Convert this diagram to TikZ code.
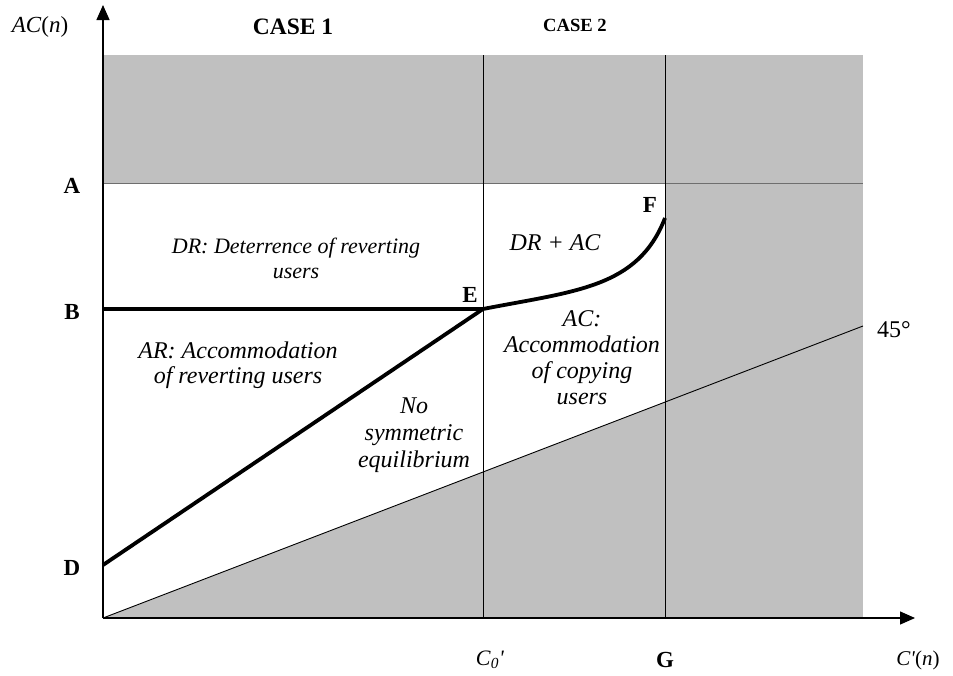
\documentclass[tikz,border=0pt]{standalone}
\usepackage{fontspec}
\setmainfont{Liberation Serif}
\usepackage{tikz}
\usetikzlibrary{arrows.meta}
\definecolor{zone}{RGB}{192,192,192}
\definecolor{edge}{RGB}{110,110,110}

\begin{document}
\begin{tikzpicture}[x=1pt,y=-1pt,
    lbl/.style={font=\fontsize{24}{26}\selectfont\itshape, align=center, inner sep=0pt},
    pt/.style={font=\fontsize{23}{25}\selectfont\bfseries, inner sep=0pt},
    axis/.style={line width=1.3pt, -{Triangle[length=15pt,width=13pt]}},
    curve/.style={line width=3.8pt}]
    \useasboundingbox (0,0) rectangle (953,675);

    % Key points of the diagram
    \coordinate (O) at (103,618);   % origin
    \coordinate (Atop) at (103,183);
    \coordinate (B) at (103,309);
    \coordinate (D) at (103,565);
    \coordinate (E) at (483,309);
    \coordinate (F) at (665,218);
    \coordinate (H) at (863,326);   % end of the 45 degree line

    % Shaded regions
    \fill[zone] (103,55) rectangle (863,183);
    \fill[zone] (665,183) rectangle (863,618);
    \fill[zone] (O) -- (665,402) -- (665,618) -- cycle;
    \draw[edge, line width=0.8pt] (Atop) -- (863,183);

    % Case boundaries
    \draw[line width=0.9pt] (483,55) -- (483,618);
    \draw[line width=0.9pt] (665,55) -- (665,618);

    % 45 degree line
    \draw[line width=0.9pt] (O) -- (H);

    % Regime boundaries
    \draw[curve] (B) -- (E);
    \draw[curve] (D) -- (E);
    \draw[curve] (E) .. controls (575,291) and (638,288) .. (F);

    % Axes
    \draw[axis] (O) -- (103,5);
    \draw[axis] (O) -- (915,618);

    % Axis labels
    \node[lbl, font=\fontsize{23}{25}\selectfont] (yl) at (40,27) {\textit{AC}(\textit{n})};
    \node[lbl, font=\fontsize{21}{25}\selectfont] (xl) at (918,660) {\textit{C\textquotesingle}(\textit{n})};
    \node[lbl, font=\fontsize{22}{25}\selectfont] (c0) at (490,660) {\textit{C}\textsubscript{\textit{0}}\textit{\textquotesingle}};
    \node[pt] (G) at (665,660) {G};

    % Vertex labels
    \node[pt] (lA) at (72,186) {A};
    \node[pt] (lB) at (72,312) {B};
    \node[pt] (lD) at (72,568) {D};
    \node[pt] (lE) at (470,295) {E};
    \node[pt] (lF) at (650,205) {F};

    % Case headings
    \node[pt, font=\fontsize{23.5}{25}\selectfont\bfseries] (case1) at (293,27) {CASE 1};
    \node[pt, font=\fontsize{18.6}{25}\selectfont\bfseries] (case2) at (575,25) {CASE 2};

    % Region labels
    \node[lbl, font=\fontsize{22}{25}\selectfont\itshape] (dr) at (296,258) {DR: Deterrence of reverting\\users};
    \node[lbl] (drac) at (555,243) {DR + AC};
    \node[lbl, font=\fontsize{24}{25}\selectfont\itshape] (ar) at (238,365) {AR: Accommodation\\of reverting users};
    \node[lbl, font=\fontsize{24}{27}\selectfont\itshape] (nse) at (414,435) {No\\symmetric\\equilibrium};
    \node[lbl, font=\fontsize{24}{26}\selectfont\itshape] (ac) at (582,358) {AC:\\Accommodation\\of copying\\users};
    \node[lbl, font=\fontsize{24}{25}\selectfont] (deg) at (894,330) {45°};
\end{tikzpicture}
\end{document}
